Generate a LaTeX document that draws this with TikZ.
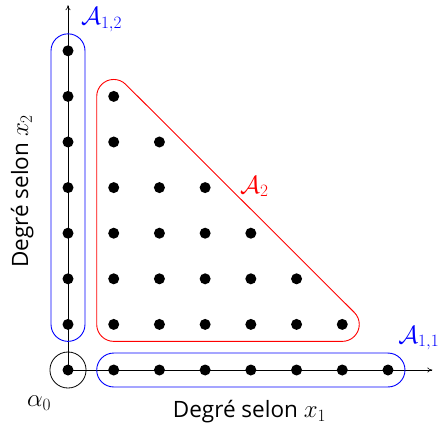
\documentclass[tikz,border=0pt]{standalone}
\usepackage{fontspec}
\setmainfont{Open Sans}
\usetikzlibrary{arrows.meta,calc}
\newcommand{\axmath}[1]{{\fontsize{26}{28}\selectfont$#1$}}
\begin{document}
\begin{tikzpicture}[x=45.71pt,y=45.6pt,
  dotpt/.style={fill=black,circle,inner sep=0pt,minimum size=11pt},
  axis/.style={line width=0.6pt,-{To[length=5pt,width=5pt]}},
  lbl/.style={font=\fontsize{22.5}{26}\selectfont},
  mlbl/.style={font=\fontsize{27}{30}\selectfont,anchor=base west}]
\useasboundingbox (-1.4876,-1.3596) rectangle (8.116,8.114);
% axes
\coordinate (O) at (0,0);
\coordinate (xend) at (7.97,0);
\coordinate (yend) at (0,8.0);
\draw[axis] (O) -- (xend);
\draw[axis] (O) -- (yend);
% dots
\node[dotpt] (p00) at (0,0) {};
\foreach \i in {1,...,7} {
  \node[dotpt] (px\i) at (\i,0) {};
  \node[dotpt] (py\i) at (0,\i) {};
}
\foreach \j in {1,...,6} {
  \pgfmathtruncatemacro{\m}{7-\j}
  \foreach \i in {1,...,\m} {
    \node[dotpt] (p\i\j) at (\i,\j) {};
  }
}
% origin circle
\draw[line width=0.8pt] (O) circle (0.395);
% blue boxes
\def\r{0.372}
\draw[blue,line width=0.9pt] (-\r,1) -- (-\r,7) arc (180:0:\r) -- (\r,1) arc (0:-180:\r) -- cycle;
\draw[blue,line width=0.9pt] (1,-\r) -- (7,-\r) arc (-90:90:\r) -- (1,\r) arc (90:270:\r) -- cycle;
% red rounded triangle
\draw[red,line width=0.9pt] (1-\r,1) -- (1-\r,6) arc (180:45:\r) -- ($(6,1)+(45:\r)$) arc (45:-90:\r) -- (1,1-\r) arc (270:180:\r) -- cycle;
% labels
\node[blue,mlbl] (a12) at (0.21,7.57) {$\mathcal{A}_{1,2}$};
\node[blue,mlbl] (a11) at (7.15,0.59) {$\mathcal{A}_{1,1}$};
\node[red,mlbl] (a2) at (3.69,3.88) {$\mathcal{A}_2$};
\node[mlbl,font=\fontsize{25}{28}\selectfont] (alpha) at (-0.97,-0.81) {$\alpha_0$};
\node[lbl] (xl) at (3.97,-0.92) {Degré selon \axmath{x_1}};
\node[lbl,rotate=90] (yl) at (-1.0,3.92) {Degré selon \axmath{x_2}};
\end{tikzpicture}
\end{document}
